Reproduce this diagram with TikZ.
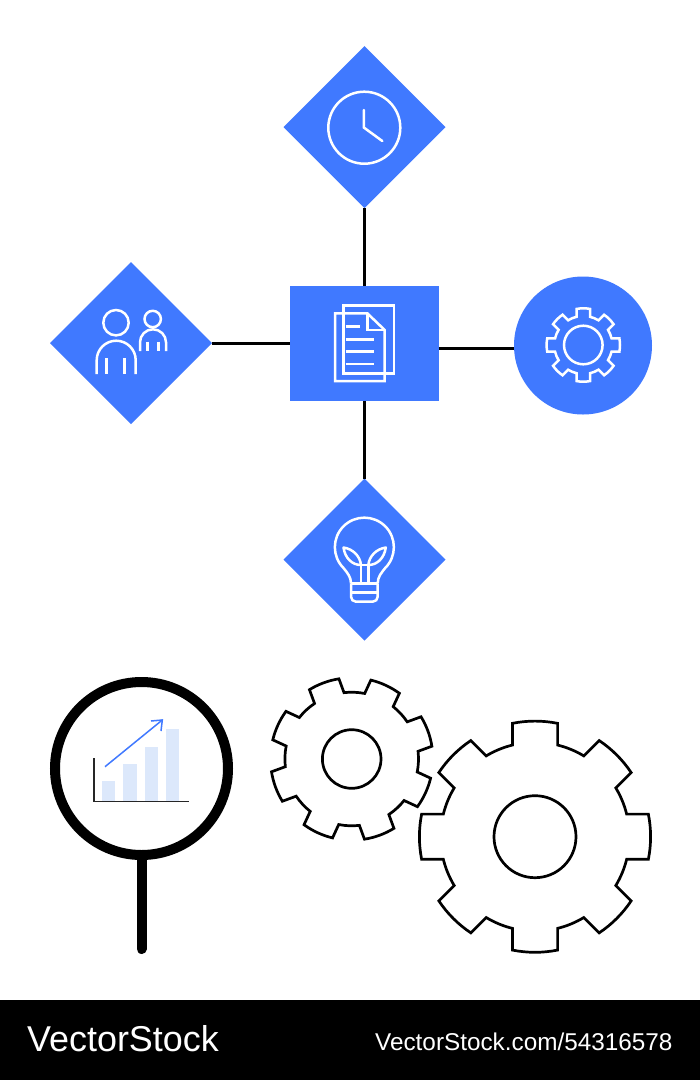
\documentclass[tikz,border=0pt]{standalone}
\usepackage{fontspec}
\setmainfont{Liberation Sans}
\usetikzlibrary{shapes.geometric}
\definecolor{brandblue}{HTML}{4079FF}
\definecolor{barblue}{HTML}{DCE8FB}
\tikzset{
  bluediamond/.style={diamond,fill=brandblue,draw=none,inner sep=0pt,outer sep=0pt,minimum width=162pt,minimum height=162pt,aspect=1},
  bluebox/.style={rectangle,fill=brandblue,draw=none,inner sep=0pt,outer sep=0pt,minimum width=148.5pt,minimum height=115pt},
  bluecircle/.style={circle,fill=brandblue,draw=none,inner sep=0pt,outer sep=0pt,minimum size=138pt},
  connector/.style={draw=black,line width=3pt},
  iconline/.style={draw=white,line width=2.5pt,line join=miter},
  outline/.style={draw=black,line width=2.7pt,line join=miter},
  bartext/.style={text=white,inner sep=0pt,anchor=base west}
}
% cx, cy, outer r, root r, half tooth width, rotation, style
\newcommand{\gearshape}[7]{%
  \pgfmathsetmacro\gAo{asin(#5/#3)}%
  \pgfmathsetmacro\gAr{asin(#5/#4)}%
  \pgfmathsetmacro\gSt{#6-\gAr}%
  \draw[#7] ([shift={(#1,#2)}]\gSt:#4)
    \foreach \k [evaluate=\k as \ga using {#6+45*\k-\gAo},
                 evaluate=\k as \gb using {#6+45*\k+\gAo},
                 evaluate=\k as \gc using {#6+45*\k+\gAr},
                 evaluate=\k as \gd using {#6+45*\k+45-\gAr}] in {0,...,7} {
      -- ([shift={(#1,#2)}]\ga:#3)
      arc[start angle=\ga,end angle=\gb,radius=#3]
      -- ([shift={(#1,#2)}]\gc:#4)
      arc[start angle=\gc,end angle=\gd,radius=#4]
    } -- cycle;%
}
\begin{document}
\begin{tikzpicture}[x=1pt,y=1pt,yscale=-1]
\useasboundingbox (0,0) rectangle (700,1080);
\fill[white] (0,0) rectangle (700,1080);

% main shapes
\node[bluediamond] (clock) at (364.5,127) {};
\node[bluediamond] (people) at (131,343) {};
\node[bluediamond] (bulb) at (364.5,559.5) {};
\node[bluebox] (doc) at (364.5,343.5) {};
\node[bluecircle] (cog) at (583,345.5) {};

% connectors
\draw[connector] (clock.south) -- (doc.north);
\draw[connector] (doc.south) -- (bulb.north);
\draw[connector] (people.east) -- (doc.west |- people.east);
\draw[connector] ([yshift=4.5pt]doc.east) -- ([yshift=2.5pt]cog.west);

% clock icon
\draw[iconline] (364.3,127.7) circle (36);
\draw[iconline,line cap=round] (363.8,110) -- (363.8,127.5) -- (382.3,141);

% people icon
\draw[iconline] (116,322.7) circle (12.7);
\draw[iconline] (96.7,374) -- (96.7,360.2) arc[start angle=180,end angle=360,radius=19.5] -- (135.7,374);
\draw[iconline] (106.7,358.3) -- (106.7,374) (124.3,358.3) -- (124.3,374);
\draw[iconline] (152.7,319) circle (8.2);
\draw[iconline] (140,351) -- (140,342.3) arc[start angle=180,end angle=360,radius=13] -- (166,351);
\draw[iconline] (147.7,341.7) -- (147.7,351) (158.3,341.7) -- (158.3,351);

% document icon
\draw[iconline] (343.7,305.3) rectangle (394,373.3);
\draw[iconline] (335,313.3) -- (367.3,313.3) -- (384.7,330) -- (384.7,381) -- (335,381) -- cycle;
\draw[iconline] (367.3,313.3) -- (367.3,330) -- (384.7,330);
\draw[iconline] (345.7,326.7) -- (360,326.7);
\draw[iconline] (345.7,339.3) -- (374,339.3);
\draw[iconline] (345.7,351.3) -- (374,351.3);
\draw[iconline] (345.7,364) -- (374,364);

% gear icon
\gearshape{583.3}{345}{36.7}{29}{6.7}{0}{iconline}
\draw[iconline] (583.3,345) circle (19.3);

% bulb icon
\draw[iconline,line join=round] (351,583.3) .. controls (351,577) and (347.5,573) .. (343.5,568)
  arc[start angle=135,end angle=405,radius=29.5]
  .. controls (381.2,573) and (377.7,577) .. (377.7,583.3);
\draw[iconline,rounded corners=5pt] (351,583.3) -- (351,601.7) -- (377.7,601.7) -- (377.7,583.3);
\draw[iconline] (351,583.3) -- (377.7,583.3);
\draw[iconline] (351,592.3) -- (377.7,592.3);
\draw[iconline] (361,583.3) -- (361,565) -- (368.3,565) -- (368.3,583.3);
\draw[iconline,line join=round] (343.5,547.5) .. controls (353,549) and (360,556) .. (361,565)
  .. controls (352,565) and (345,558) .. cycle;
\draw[iconline,line join=round] (385.8,547.5) .. controls (376.3,549) and (369.3,556) .. (368.3,565)
  .. controls (377.3,565) and (384.3,558) .. cycle;

% magnifier
\node[circle,draw=black,line width=10pt,inner sep=0pt,minimum size=173pt] (lens) at (141.5,768.5) {};
\coordinate (handleend) at (141.5,949);
\draw[black,line width=10pt,line cap=round] (lens.south) -- (handleend);

% chart
\fill[barblue] (102,781) rectangle (115.3,800.7);
\fill[barblue] (123.3,764) rectangle (136.7,800.7);
\fill[barblue] (144.7,746.7) rectangle (158,800.7);
\fill[barblue] (166,729.3) rectangle (179.3,800.7);
\draw[black!85,line width=1.5pt] (94,758.3) -- (94,801.3) -- (189,801.3);
\draw[brandblue,line width=1.5pt] (105,766.7) -- (162.3,720);
\draw[brandblue,line width=1.5pt] (151,721) -- (162.3,720) -- (161,731);

% big outline gears
\gearshape{351.7}{759}{81.2}{66.8}{15.7}{-20.2}{outline}
\draw[outline] (351.7,759) circle (29.3);
\gearshape{535}{836.7}{115.6}{94.4}{22.6}{0}{outline}
\draw[outline] (535,836.7) circle (41);

% footer
\fill[black] (0,1000) rectangle (700,1080);
\node[bartext,font=\fontsize{35.9}{40}\selectfont] (logo) at (27,1051.7) {VectorStock};
\node[bartext,font=\fontsize{24.3}{28}\selectfont] (url) at (375,1050.7) {VectorStock.com/54316578};
\end{tikzpicture}
\end{document}
